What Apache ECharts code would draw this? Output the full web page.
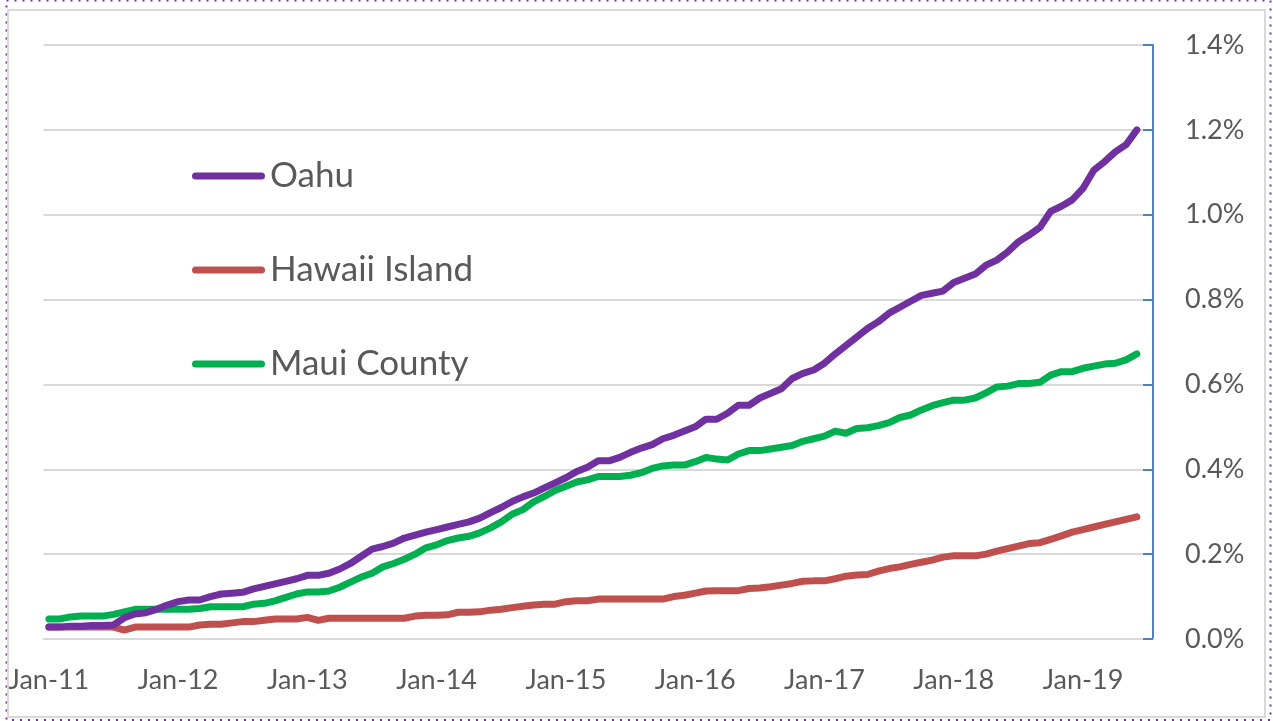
<!DOCTYPE html>
<html><head><meta charset="utf-8">
<script src="https://cdn.jsdelivr.net/npm/echarts@6/dist/echarts.min.js"></script>
<style>html,body{margin:0;padding:0;background:#fff}#c{width:1273px;height:721px}</style>
</head><body><div id="c"></div>
<script>
// Category axis: monthly, Jan-11 .. Jul-19
const monthNames = ['Jan','Feb','Mar','Apr','May','Jun','Jul','Aug','Sep','Oct','Nov','Dec'];
const firstYear = 2011;
const monthCount = 103;
const yTickValues = [0, 0.2, 0.4, 0.6, 0.8, 1.0, 1.2, 1.4];

const seriesNames = ['Oahu', 'Hawaii Island', 'Maui County'];
const seriesColors = ['#7030A0', '#C0504D', '#00B050'];

// values in percent
const oahu = [0.028,0.028,0.030,0.030,0.032,0.032,0.033,0.050,0.059,0.062,0.070,0.080,0.088,0.092,0.092,0.100,0.106,0.108,0.110,0.118,0.124,0.130,0.136,0.142,0.150,0.150,
  0.155,0.165,0.178,0.195,0.212,0.218,0.226,0.238,0.245,0.252,0.258,0.264,0.270,0.276,0.285,0.298,0.310,0.324,0.335,0.344,0.356,0.368,0.380,0.395,
  0.405,0.420,0.420,0.428,0.440,0.450,0.458,0.472,0.480,0.490,0.500,0.518,0.518,0.532,0.551,0.551,0.568,0.579,0.590,0.614,0.626,0.634,0.650,0.672,0.692,0.712,0.732,0.748,0.768,0.782,0.796,0.810,0.815,0.820,0.840,0.850,0.860,0.881,0.893,0.912,0.936,0.952,0.970,1.008,1.020,1.035,1.062,1.105,1.125,1.148,1.165,1.200];

const hawaiiIsland = [0.028,0.028,0.028,0.028,0.028,0.028,0.028,0.021,0.028,0.028,0.028,0.028,0.028,0.028,0.033,0.035,0.035,0.038,0.041,0.041,0.044,0.047,0.047,0.047,
  0.051,0.044,0.049,0.049,0.049,0.049,0.049,0.049,0.049,0.049,
  0.054,0.056,0.056,0.057,0.063,0.063,0.064,0.068,0.070,0.074,0.077,0.080,0.082,0.082,0.088,0.090,0.090,0.094,
  0.094,0.094,0.094,0.094,0.094,0.094,
  0.100,0.103,0.108,0.113,0.114,0.114,0.114,0.119,0.120,0.123,0.127,0.131,0.136,0.137,0.137,0.142,0.148,0.151,0.152,
  0.160,0.166,0.170,0.176,0.181,0.186,0.193,0.196,0.196,0.196,0.200,0.207,0.213,0.219,0.225,0.227,0.235,0.243,0.252,0.258,0.264,0.270,0.276,0.282,0.288];

const mauiCounty = [0.047,0.047,0.052,0.054,0.054,0.054,0.058,0.064,0.070,0.070,0.070,0.070,0.070,0.070,0.072,0.076,0.076,0.076,0.076,0.082,0.084,0.090,0.098,0.106,0.111,0.111,
  0.113,0.122,0.134,0.146,0.155,0.170,0.178,0.188,0.200,0.215,0.222,0.232,0.238,0.242,0.250,0.262,0.276,0.294,0.305,0.323,0.336,0.350,0.360,0.370,
  0.375,0.383,0.383,0.383,0.386,0.392,0.402,0.408,0.410,0.410,0.418,0.428,0.424,0.422,0.436,0.444,0.444,0.448,0.452,0.456,0.466,0.472,0.478,0.490,0.485,0.496,0.498,0.503,0.510,0.522,0.528,0.540,0.550,0.557,0.563,0.563,0.568,0.580,0.594,0.596,0.602,0.602,0.605,0.622,0.630,0.630,0.638,0.643,0.648,0.650,0.658,0.672];

const categories = [];
for (let i = 0; i < monthCount; i++) {
  const y = firstYear + Math.floor(i / 12);
  categories.push(monthNames[i % 12] + '-' + String(y).slice(2));
}

const FONT = 'Lato';
const TXT = '#595959';
const GRID = '#D9D9D9';
const PILL = 'path://M3.5,0 L69.5,0 A3.5,3.5 0 0 1 69.5,7 L3.5,7 A3.5,3.5 0 0 1 3.5,0 Z';

const chart = echarts.init(document.getElementById('c'), null, {renderer: 'canvas'});
const seriesData = [oahu, hawaiiIsland, mauiCounty];
chart.setOption({
  backgroundColor: '#ffffff',
  animation: false,
  graphic: [
    {type: 'rect', shape: {x: 6.5, y: 0.5, width: 1264, height: 719.5}, style: {fill: 'none', stroke: '#7030A0', lineWidth: 2, lineDash: [2, 6]}, silent: true, z: 0},
    {type: 'rect', shape: {x: 8, y: 10, width: 1257, height: 707}, style: {fill: '#fff', stroke: GRID, lineWidth: 2}, silent: true, z: 0}
  ],
  grid: {left: 43.5, right: 120, top: 45, bottom: 82, containLabel: false},
  legend: {
    orient: 'vertical', left: 192, top: 156, padding: 0,
    itemWidth: 73, itemHeight: 7, itemGap: 54,
    icon: PILL,
    data: seriesNames,
    textStyle: {fontFamily: FONT, fontSize: 35, color: TXT, lineHeight: 40}
  },
  xAxis: {
    type: 'category', data: categories, boundaryGap: true,
    axisLine: {lineStyle: {color: GRID, width: 2}},
    axisTick: {inside: true, interval: 11, length: 9, lineStyle: {color: GRID, width: 2}},
    axisLabel: {interval: 11, margin: 28, fontFamily: FONT, fontSize: 27, color: TXT},
    splitLine: {show: false}
  },
  yAxis: {
    type: 'value', position: 'right', min: 0, max: 1.4, interval: 0.2,
    axisLine: {show: true, lineStyle: {color: '#4F81BD', width: 2}},
    axisTick: {show: true, inside: true, length: 10, lineStyle: {color: '#4F81BD', width: 2}},
    axisLabel: {margin: 32, fontFamily: FONT, fontSize: 27, color: TXT, formatter: v => v.toFixed(1) + '%'},
    splitLine: {lineStyle: {color: GRID, width: 2}}
  },
  series: seriesNames.map((n, k) => ({
    name: n, type: 'line', data: seriesData[k], symbol: 'none',
    color: seriesColors[k],
    lineStyle: {width: 7, color: seriesColors[k], cap: 'round', join: 'round'},
    z: 3 + (k === 0 ? 2 : k === 2 ? 1 : 0)
  }))
});
</script></body></html>
